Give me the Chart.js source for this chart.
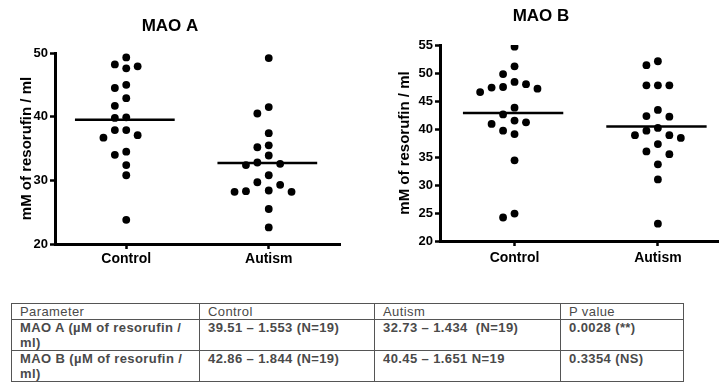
<!DOCTYPE html>
<html>
<head>
<meta charset="utf-8">
<script src="https://cdn.jsdelivr.net/npm/chart.js@4.4.1/dist/chart.umd.min.js"></script>
<style>
    body { margin: 0; background: #fff; width: 722px; height: 385px; overflow: hidden; position: relative; }
    #chart-a { position: absolute; left: 0; top: 0; }
    #chart-b { position: absolute; left: 360px; top: 0; }
    table {
        position: absolute; left: 11px; top: 303px; width: 672px;
        border-collapse: collapse; table-layout: fixed;
        font-family: 'Liberation Sans', Arial, sans-serif; font-size: 13px;
        letter-spacing: 0.4px; color: #4a4a4a; line-height: 15px;
    }
    td { border: 1.5px solid #555; padding: 0 6px 0 8px; vertical-align: top; font-weight: bold; }
    tr.head td { font-weight: normal; height: 15px; }
    tr.body td { height: 29px; }
</style>
</head>
<body>
<canvas id="chart-a" width="350" height="268"></canvas>
<canvas id="chart-b" width="362" height="268"></canvas>
<table>
    <colgroup><col style="width:188px"><col style="width:175px"><col style="width:186px"><col style="width:123px"></colgroup>
    <tr class="head"><td>Parameter</td><td>Control</td><td>Autism</td><td>P value</td></tr>
    <tr class="body"><td>MAO A (µM of resorufin / ml)</td><td>39.51 – 1.553 (N=19)</td><td>32.73 – 1.434&nbsp; (N=19)</td><td>0.0028 (**)</td></tr>
    <tr class="body"><td>MAO B (µM of resorufin / ml)</td><td>42.86 – 1.844 (N=19)</td><td>40.45 – 1.651 N=19</td><td>0.3354 (NS)</td></tr>
</table>
<script>
// values (19 per group)
const groups = ['Control', 'Autism'];

const maoAControl = [49.3, 47.9, 47.6, 48.2, 44.5, 45.0, 42.9, 41.7, 39.8, 39.9,
    37.9, 37.1, 36.7, 37.9, 34.0, 34.5, 32.4, 30.8, 23.8];
const maoAAutism = [49.2, 41.5, 40.5, 37.4, 35.5, 35.2, 33.9, 32.4, 32.6, 32.8,
    30.8, 29.3, 29.7, 28.3, 28.2, 28.2, 28.4, 25.5, 22.6];
const maoAMeans = [39.51, 32.73];
const maoATicks = [20, 30, 40, 50];

const maoBControl = [54.7, 51.2, 49.8, 48.4, 47.5, 47.2, 46.6, 47.4, 48.0, 43.8,
    42.6, 40.9, 41.5, 41.2, 39.1, 39.7, 34.4, 24.2, 24.9];
const maoBAutism = [52.1, 51.4, 47.8, 47.8, 47.8, 43.4, 42.3, 42.2, 40.2, 38.9,
    38.4, 38.9, 39.7, 37.3, 36.0, 35.5, 33.7, 31.0, 23.1];
const maoBMeans = [42.86, 40.45];
const maoBTicks = [20, 25, 30, 35, 40, 45, 50, 55];

const FONT = "'Liberation Sans', Arial, sans-serif";

// simple column-swarm so dots with close values sit side by side
function swarm(values, center, gap) {
    const step = 0.08;
    const slotOrder = [0, -1, 1, -2, 2, -3, 3, -4, 4];
    const placed = {};
    const order = values.map((v, i) => i).sort((a, b) => values[b] - values[a]);
    return order.map(i => {
        const v = values[i];
        const s = slotOrder.find(k => !(placed[k] || []).some(u => Math.abs(u - v) < gap));
        (placed[s] = placed[s] || []).push(v);
        return { x: center + s * step, y: v };
    });
}

function makeChart(id, cfg) {
    const range = cfg.ticks[cfg.ticks.length - 1] - cfg.ticks[0];
    const gap = range * 0.052;
    const datasets = [];
    cfg.series.forEach((vals, i) => {
        datasets.push({
            type: 'scatter',
            data: swarm(vals, i + 1, gap),
            backgroundColor: '#000',
            borderWidth: 0,
            pointRadius: 3.9,
            pointHoverRadius: 3.9
        });
        datasets.push({
            type: 'line',
            data: [{ x: i + 1 - 0.36, y: cfg.means[i] }, { x: i + 1 + 0.34, y: cfg.means[i] }],
            borderColor: '#000',
            borderWidth: 2.4,
            pointRadius: 0
        });
    });

    return new Chart(document.getElementById(id), {
        data: { datasets },
        options: {
            responsive: false,
            animation: false,
            layout: { padding: { left: 0, right: cfg.padRight, bottom: 0 } },
            plugins: {
                legend: { display: false },
                tooltip: { enabled: false },
                title: {
                    display: true,
                    text: cfg.title,
                    color: '#000',
                    font: { family: FONT, size: 17, weight: 'bold' },
                    padding: cfg.titlePad
                }
            },
            scales: {
                x: {
                    type: 'linear',
                    min: cfg.xRange[0],
                    max: cfg.xRange[1],
                    afterBuildTicks: s => { s.ticks = groups.map((g, i) => ({ value: i + 1 })); },
                    afterFit: s => { s.height = cfg.xHeight; },
                    ticks: {
                        callback: v => groups[v - 1],
                        color: '#000',
                        padding: cfg.xTickPad,
                        font: { family: FONT, size: 14, weight: 'bold' }
                    },
                    grid: { drawOnChartArea: false, tickLength: 5, tickColor: '#000', tickWidth: 2.5 },
                    border: { display: true, color: '#000', width: 3 }
                },
                y: {
                    min: cfg.ticks[0],
                    max: cfg.ticks[cfg.ticks.length - 1],
                    afterBuildTicks: s => { s.ticks = cfg.ticks.map(v => ({ value: v })); },
                    afterFit: s => { s.width = cfg.yWidth; },
                    ticks: {
                        color: '#000',
                        padding: 2,
                        font: { family: FONT, size: 13, weight: 'bold' }
                    },
                    title: {
                        display: true,
                        text: 'mM of resorufin / ml',
                        color: '#000',
                        font: { family: FONT, size: 15, weight: 'bold' },
                        padding: { top: cfg.yTitlePad, bottom: 0 }
                    },
                    grid: { drawOnChartArea: false, tickLength: 5, tickColor: '#000', tickWidth: 2.5 },
                    border: { display: true, color: '#000', width: 3 }
                }
            }
        }
    });
}

makeChart('chart-a', {
    title: 'MAO A',
    series: [maoAControl, maoAAutism],
    means: maoAMeans,
    ticks: maoATicks,
    xRange: [0.5, 2.5],
    padRight: 10,
    titlePad: { top: 16, bottom: 16.6 },
    xHeight: 24,
    xTickPad: 2,
    yWidth: 55,
    yTitlePad: 18
});

makeChart('chart-b', {
    title: 'MAO B',
    series: [maoBControl, maoBAutism],
    means: maoBMeans,
    ticks: maoBTicks,
    xRange: [0.48, 2.42],
    padRight: 0,
    titlePad: { top: 6, bottom: 18.6 },
    xHeight: 27,
    xTickPad: 4,
    yWidth: 80,
    yTitlePad: 36
});
</script>
</body>
</html>
